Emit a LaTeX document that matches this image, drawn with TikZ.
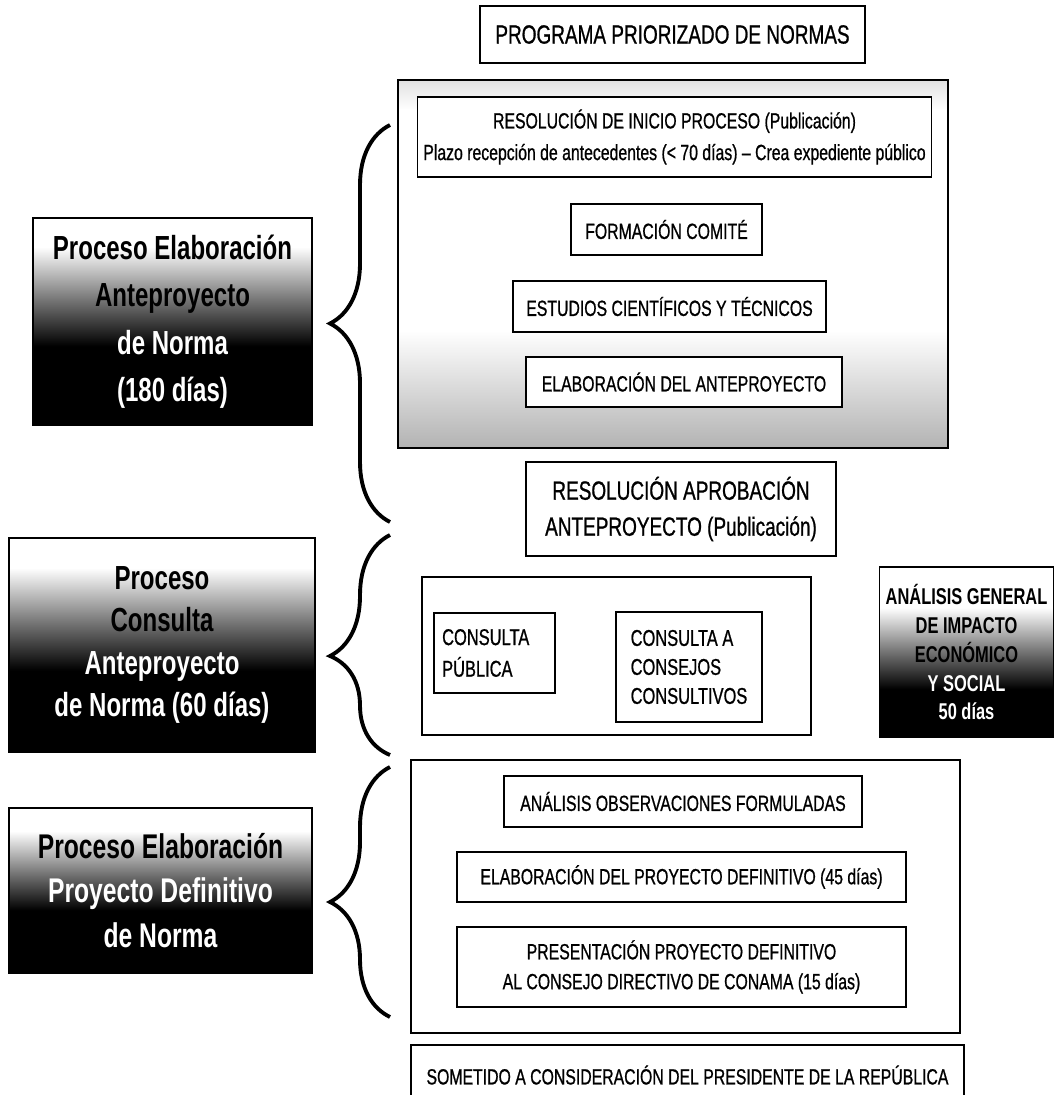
\documentclass[tikz,border=0pt]{standalone}
\usepackage{fontspec}
\usetikzlibrary{decorations.pathreplacing}
\newfontfamily\narrowsf{Liberation Sans}[FakeStretch=0.72, FakeBold=0.8]
\newfontfamily\phasesf{Liberation Sans}[FakeStretch=0.72]
\pgfdeclareverticalshading{darkfade}{100bp}{color(0bp)=(black); color(44bp)=(black); color(55bp)=(black!55); color(68bp)=(white); color(100bp)=(white)}
\pgfdeclareverticalshading{darklow}{100bp}{color(0bp)=(black); color(39bp)=(black); color(50bp)=(black!55); color(63bp)=(white); color(100bp)=(white)}
\pgfdeclareverticalshading{palefade}{100bp}{color(0bp)=(black!30); color(25bp)=(black!30); color(41bp)=(white); color(71bp)=(white); color(75bp)=(black!12); color(100bp)=(black!12)}
\tikzset{
  stage/.style={draw, line width=1.6pt, inner sep=0pt},
  innerbox/.style={draw, fill=white, line width=0.8pt, align=center,
    font=\narrowsf\fontsize{12.5}{17}\selectfont},
  phase/.style={draw, line width=0.8pt, shade, shading=darkfade, align=center,
    font=\phasesf\bfseries\fontsize{19}{27}\selectfont},
  curly/.style={decorate, decoration={brace, amplitude=1.2cm}, line width=2.2pt}
}
\begin{document}
\begin{tikzpicture}[x=0.02cm, y=-0.02cm]
	\clip (0,0) rectangle (1056,1095);
	\fill[white] (0,0) rectangle (1056,1095);

	\node[innerbox, font=\narrowsf\fontsize{15}{18}\selectfont, minimum width=7.7cm, minimum height=1.14cm]
	    (prog) at (672.5,34.5) {PROGRAMA PRIORIZADO DE NORMAS};

	\node[stage, shade, shading=palefade, minimum width=11cm, minimum height=7.36cm] (anteproy) at (673,264) {};
	\node[innerbox, font=\narrowsf\fontsize{12.5}{18}\selectfont, minimum width=10.1cm, minimum height=1.6cm]
	    (inicio) at (674.5,137) {RESOLUCIÓN DE INICIO PROCESO (Publicación)\\
	    Plazo recepción de antecedentes (< 70 días) – Crea expediente público};
	\node[innerbox, minimum width=3.82cm, minimum height=1.02cm] (comite) at (666.5,229.5) {FORMACIÓN COMITÉ};
	\node[innerbox, minimum width=6.26cm, minimum height=1.02cm] (estudios) at (669.5,306.5) {ESTUDIOS CIENTÍFICOS Y TÉCNICOS};
	\node[innerbox, minimum width=6.32cm, minimum height=1cm] (elabante) at (684,382) {ELABORACIÓN DEL ANTEPROYECTO};

	\node[innerbox, font=\narrowsf\fontsize{15}{20.5}\selectfont, minimum width=6.2cm, minimum height=1.88cm]
	    (aprob) at (681,509) {RESOLUCIÓN APROBACIÓN\\ ANTEPROYECTO (Publicación)};

	\node[stage, fill=white, minimum width=7.78cm, minimum height=3.16cm] (consulta) at (616.5,656) {};
	\node[innerbox, align=left, font=\narrowsf\fontsize{13}{18}\selectfont, minimum width=2.42cm, minimum height=1.6cm]
	    (publica) at (494.5,653) {CONSULTA\\ PÚBLICA\hspace*{1.5em}};
	\node[innerbox, align=left, font=\narrowsf\fontsize{13}{16.5}\selectfont, minimum width=2.92cm, minimum height=2.2cm]
	    (consejos) at (689,667) {CONSULTA A\\ CONSEJOS\\ CONSULTIVOS};

	\node[phase, shading=darklow, font=\phasesf\bfseries\fontsize{13}{16.5}\selectfont, minimum width=3.46cm, minimum height=3.4cm]
	    (impacto) at (966.5,652) {ANÁLISIS GENERAL\\ DE IMPACTO\\ ECONÓMICO\\
	    \textcolor{white}{Y SOCIAL}\\ \textcolor{white}{50 días}};

	\node[stage, fill=white, minimum width=10.98cm, minimum height=5.46cm] (definitivo) at (685.5,896.5) {};
	\node[innerbox, minimum width=7.16cm, minimum height=1.02cm] (observ) at (683,801.5) {ANÁLISIS OBSERVACIONES FORMULADAS};
	\node[innerbox, minimum width=8.98cm, minimum height=1cm] (elabproy) at (681.5,877) {ELABORACIÓN DEL PROYECTO DEFINITIVO (45 días)};
	\node[innerbox, minimum width=8.98cm, minimum height=1.6cm] (presenta) at (681.5,967)
	    {PRESENTACIÓN PROYECTO DEFINITIVO\\ AL CONSEJO DIRECTIVO DE CONAMA (15 días)};
	\node[innerbox, minimum width=11.06cm, minimum height=1.2cm] (sometido) at (687.5,1075)
	    {SOMETIDO A CONSIDERACIÓN DEL PRESIDENTE DE LA REPÚBLICA};

	\node[phase, minimum width=5.58cm, minimum height=4.14cm] (fase1) at (172.5,321.5)
	    {Proceso Elaboración\\ Anteproyecto\\ \textcolor{white}{de Norma}\\ \textcolor{white}{(180 días)}};
	\node[phase, font=\phasesf\bfseries\fontsize{19}{24}\selectfont, minimum width=6.12cm, minimum height=4.28cm] (fase2) at (162,645)
	    {Proceso\\ Consulta\\ \textcolor{white}{Anteproyecto}\\ \textcolor{white}{de Norma (60 días)}};
	\node[phase, font=\phasesf\bfseries\fontsize{19.5}{25.5}\selectfont, minimum width=6.06cm, minimum height=3.3cm] (fase3) at (160.5,890.5)
	    {Proceso Elaboración\\ \textcolor{white}{Proyecto Definitivo}\\ \textcolor{white}{de Norma}};

	\draw[curly] (390,522) -- (390,125);
	\draw[curly, decoration={aspect=0.45}] (390,755) -- (390,535);
	\draw[curly, decoration={aspect=0.46}] (390,1017) -- (390,767);
\end{tikzpicture}
\end{document}
